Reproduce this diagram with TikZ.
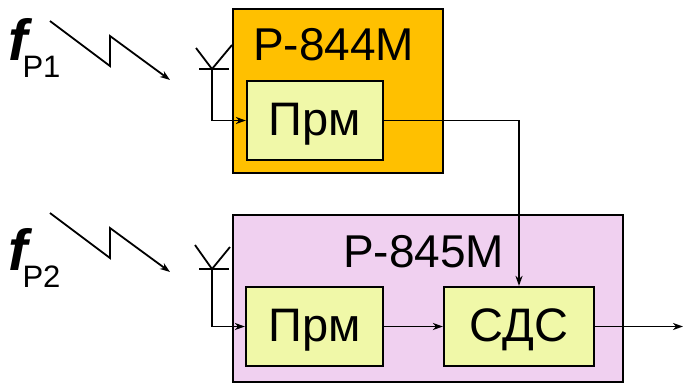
\documentclass[tikz,border=0pt]{standalone}
\usepackage{fontspec}
\setmainfont{Liberation Sans}
\usetikzlibrary{arrows.meta}
\definecolor{orangebox}{HTML}{FFC000}
\definecolor{pinkbox}{HTML}{F0D0F0}
\definecolor{yellowbox}{HTML}{F0F8A8}
\tikzset{
  outerbox/.style={draw=black, line width=2.6pt, rectangle, inner sep=0pt},
  innerbox/.style={draw=black, line width=2.2pt, rectangle, fill=yellowbox, inner sep=0pt,
    minimum height=79pt, font=\fontsize{47}{47}\selectfont, text height=31pt, text depth=2pt},
  title/.style={anchor=base west, inner sep=0pt, font=\fontsize{46}{46}\selectfont},
  conn/.style={line width=1.8pt, -{Stealth[length=10pt,width=7pt,inset=3pt]}},
  wire/.style={line width=1.8pt},
  flabel/.style={anchor=base west, inner sep=0pt}
}
\begin{document}
\begin{tikzpicture}[x=1pt,y=-1pt]
\useasboundingbox (0,0) rectangle (683,383);
% outer boxes
\node[outerbox, fill=orangebox, minimum width=210pt, minimum height=164pt] (r844) at (338,91) {};
\node[outerbox, fill=pinkbox, minimum width=390pt, minimum height=167pt] (r845) at (428,298.5) {};
\node[title] (t844) at (253,60) {Р-844М};
\node[title] (t845) at (343,267) {Р-845М};
% inner boxes
\node[innerbox, minimum width=136pt] (prm1) at (315,120.5) {Прм};
\node[innerbox, minimum width=137pt] (prm2) at (314.5,326.5) {Прм};
\node[innerbox, minimum width=150pt] (sds) at (519,326.5) {СДС};
% connectors
\draw[conn] (prm1.east) -| (sds.north);
\draw[conn] (prm2.east) -- (sds.west);
\coordinate (out) at (683,326.5);
\draw[conn] (sds.east) -- (out);
% antennas
\coordinate (a1) at (212,69);
\coordinate (a1l) at (199,69);
\coordinate (a1r) at (229,69);
\coordinate (a1al) at (196,48);
\coordinate (a1ar) at (232,45);
\draw[wire] (a1l) -- (a1r);
\draw[wire] (a1al) -- (a1) -- (a1ar);
\draw[conn] (a1) |- (prm1.west);
\coordinate (a2) at (212,269);
\coordinate (a2l) at (199,269);
\coordinate (a2r) at (229,269);
\coordinate (a2al) at (195,245);
\coordinate (a2ar) at (230,247);
\draw[wire] (a2l) -- (a2r);
\draw[wire] (a2al) -- (a2) -- (a2ar);
\draw[conn] (a2) |- (prm2.west);
% lightning
\coordinate (l1a) at (50,21);
\coordinate (l1b) at (110,66);
\coordinate (l1c) at (110,36);
\coordinate (l1d) at (170,80);
\draw[conn, line join=miter] (l1a) -- (l1b) -- (l1c) -- (l1d);
\coordinate (l2a) at (50,213);
\coordinate (l2b) at (110,258);
\coordinate (l2c) at (110,228);
\coordinate (l2d) at (170,272);
\draw[conn, line join=miter] (l2a) -- (l2b) -- (l2c) -- (l2d);
% frequency labels
\node[flabel] (f1) at (8,60) {{\fontsize{58}{58}\selectfont\bfseries\itshape f}\hspace{-5pt}\raisebox{-17pt}{\fontsize{31}{31}\selectfont Р1}};
\node[flabel] (f2) at (8,270) {{\fontsize{58}{58}\selectfont\bfseries\itshape f}\hspace{-5pt}\raisebox{-17pt}{\fontsize{31}{31}\selectfont Р2}};
\end{tikzpicture}
\end{document}
